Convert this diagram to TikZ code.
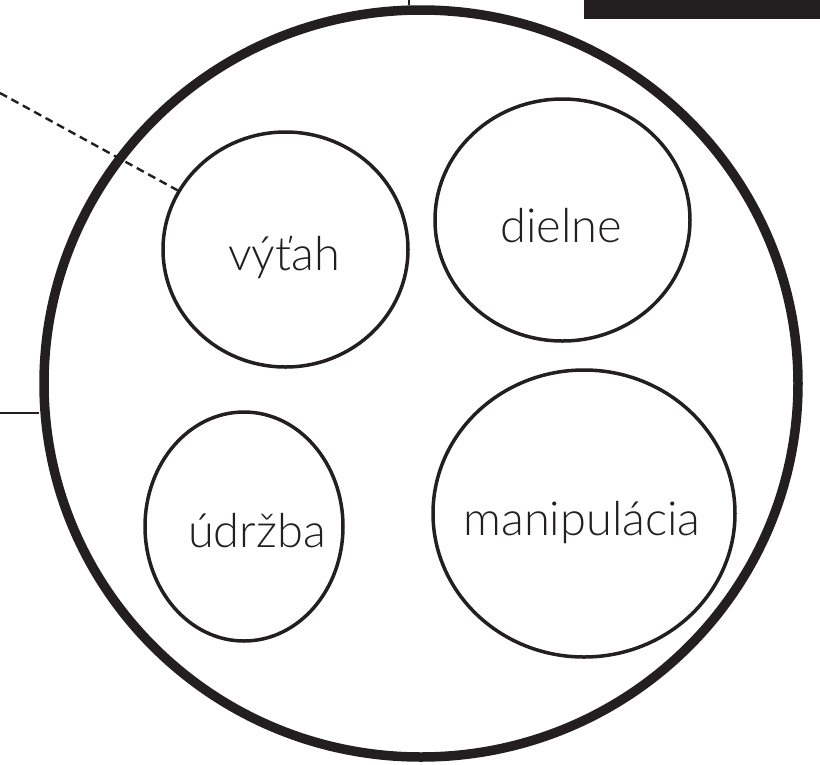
\documentclass[tikz,border=0pt]{standalone}
\usepackage{fontspec}
\setmainfont{Lato Light}
\usetikzlibrary{shapes.geometric}
\definecolor{ink}{HTML}{231F20}
\tikzset{
  bigring/.style={draw=ink, line width=9.5pt, ellipse, inner sep=0pt},
  ring/.style={draw=ink, line width=3.5pt, ellipse, inner sep=0pt},
  lbl/.style={anchor=base, inner sep=0pt, text=ink, font=\fontsize{47}{52}\selectfont},
  dashline/.style={draw=ink, line width=2.4pt, dash pattern=on 8pt off 5pt},
  thin/.style={draw=ink, line width=1.6pt}
}
\begin{document}
\begin{tikzpicture}[x=1pt,y=-1pt]
\useasboundingbox (0,0) rectangle (820,764);
\fill[ink] (584,0) rectangle (820,19);
\node[bigring, minimum width=754pt, minimum height=747pt] (big) at (421,383.5) {};
\node[ring, minimum width=245pt, minimum height=235pt] (vy) at (285.5,249.5) {};
\node[ring, minimum width=255pt, minimum height=242pt] (di) at (562.5,220) {};
\node[ring, minimum width=198pt, minimum height=229pt] (ud) at (244,526.5) {};
\node[ring, minimum width=302pt, minimum height=287pt] (ma) at (584,513.5) {};
\node[lbl] (tvy) at (284,270) {výťah};
\node[lbl] (tdi) at (561,242) {dielne};
\node[lbl] (tud) at (257,547) {údržba};
\node[lbl] (tma) at (582,535) {manipulácia};
\coordinate (dstart) at (0,93);
\coordinate (hstart) at (0,413);
\coordinate (vstart) at (409,0);
\draw[dashline] (dstart) -- (vy);
\draw[thin] (hstart) -- (hstart -| big.west);
\draw[thin] (vstart) -- (vstart |- big.north);
\end{tikzpicture}
\end{document}
